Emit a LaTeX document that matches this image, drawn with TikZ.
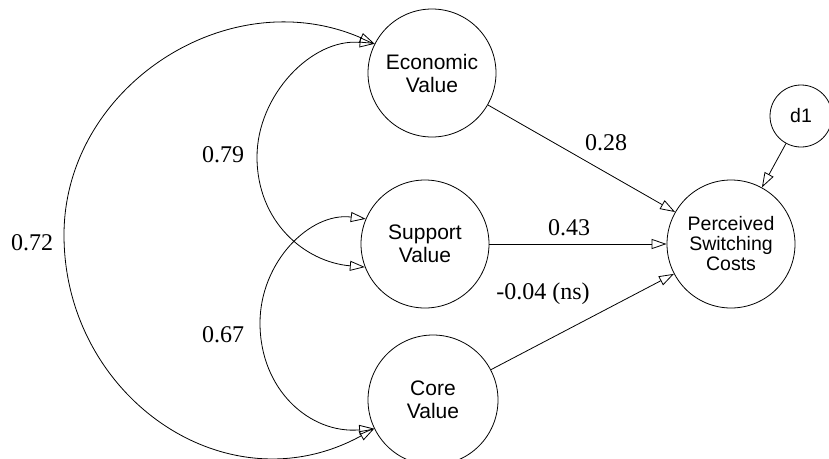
\documentclass[tikz,border=0pt]{standalone}
\usepackage{fontspec}
\setmainfont{Liberation Serif}
\newfontfamily\nodefont{Liberation Sans}
\usetikzlibrary{arrows.meta}
\begin{document}
\begin{tikzpicture}[x=1pt,y=-1pt,
  latent/.style={circle,draw,line width=0.8pt,inner sep=0pt,minimum size=128pt,align=center,
    font=\nodefont\fontsize{21}{23}\selectfont},
  smalllatent/.style={circle,draw,line width=0.8pt,inner sep=0pt,minimum size=62pt,
    font=\nodefont\fontsize{19.5}{20}\selectfont},
  conn/.style={line width=0.8pt,-{Triangle[open,length=15pt,width=10pt]}},
  corr/.style={line width=0.8pt,{Triangle[open,length=15pt,width=10pt]}-{Triangle[open,length=15pt,width=10pt]}},
  lbl/.style={font=\fontsize{24}{26}\selectfont,inner sep=0pt}]
\useasboundingbox (0,0) rectangle (829,458);
\node[latent] (eco) at (432,73) {Economic\\Value};
\node[latent] (sup) at (425,244) {Support\\Value};
\node[latent,minimum size=130pt] (core) at (433,400) {Core\\Value};
\node[latent,font=\nodefont\fontsize{19.5}{20}\selectfont] (psc) at (731,244) {Perceived\\Switching\\Costs};
\node[smalllatent] (d1) at (801,116) {d1};
\draw[conn] (eco) -- (psc);
\draw[conn] (sup) -- (psc);
\draw[conn] (core) -- (psc);
\draw[conn] (d1) -- (psc);
\coordinate (l72) at (64,235);
\coordinate (l79) at (257,157);
\coordinate (l67) at (260,323);
\draw[corr] (eco.153) .. controls (228,-20) and (64,87) .. (l72) .. controls (64,396) and (226,510) .. (core.206);
\draw[corr] (eco.153) .. controls (312,38) and (257,95) .. (l79) .. controls (257,222) and (305,262) .. (sup.201);
\draw[corr] (sup.157) .. controls (310,212) and (260,262) .. (l67) .. controls (260,390) and (310,434) .. (core.206);
\node[lbl] (t79) at (223,155) {0.79};
\node[lbl] (t72) at (32,243) {0.72};
\node[lbl] (t67) at (223,335) {0.67};
\node[lbl] (t28) at (606,143) {0.28};
\node[lbl] (t43) at (569,228) {0.43};
\node[lbl] (t04) at (543,294) {-0.04 (ns)};
\end{tikzpicture}
\end{document}
